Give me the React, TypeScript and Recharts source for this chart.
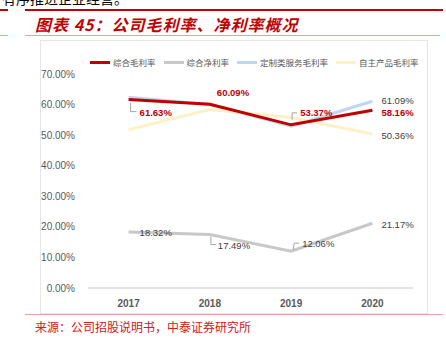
import { LineChart, Line, XAxis, YAxis, LabelList } from 'recharts'

const years = ['2017', '2018', '2019', '2020']
const grossMargin = [61.63, 60.09, 53.37, 58.16]
const netMargin = [18.32, 17.49, 12.06, 21.17]
const serviceMargin = [62.4, 60.0, 52.9, 61.09]
const productMargin = [51.8, 58.4, 55.8, 50.36]
const yTicks = [0, 10, 20, 30, 40, 50, 60, 70]

const chartData = years.map((year, i) => ({
  year,
  gross: grossMargin[i],
  net: netMargin[i],
  service: serviceMargin[i],
  product: productMargin[i],
}))

const RED = '#C00000'
const GRAY = '#C8C8C8'
const BLUE = '#BDD7EE'
const YELLOW = '#FFF0C6'
const TEXT = '#595959'
const FONT = '"Liberation Sans", Arial, sans-serif'
const CJK = '"Noto Sans CJK SC", sans-serif'

const legendItems = [
  { name: '综合毛利率', color: RED },
  { name: '综合净利率', color: GRAY },
  { name: '定制类服务毛利率', color: BLUE },
  { name: '自主产品毛利率', color: YELLOW },
]

// label placement relative to the point; null = no label
type Place = { dx: number; dy: number; leader?: number[][] } | null

const grossPlace: Place[] = [
  { dx: 11, dy: 13, leader: [[2, 3], [2, 12], [8, 12]] },
  { dx: 7, dy: -12 },
  { dx: 9, dy: -12, leader: [[1, -5], [1, -12], [6, -12]] },
  { dx: 9, dy: 2 },
]
const netPlace: Place[] = [
  { dx: 11, dy: 1 },
  { dx: 8, dy: 11, leader: [[1, 2], [1, 10], [6, 10]] },
  { dx: 11, dy: -8, leader: [[2, -1], [3, -8], [8, -8]] },
  { dx: 9, dy: 1 },
]
const serviceLast: Place[] = [null, null, null, { dx: 9, dy: -1 }]
const productLast: Place[] = [null, null, null, { dx: 9, dy: 1 }]

const makeLabel = (places: Place[], color: string, bold: boolean) => (props: any) => {
  const { x, y, index, value } = props
  const p = places[index]
  if (!p) return null
  return (
    <g key={index}>
      {p.leader && (
        <polyline
          points={p.leader.map(([a, b]) => `${x + a},${y + b}`).join(' ')}
          fill="none"
          stroke="#A6A6A6"
          strokeWidth={1}
        />
      )}
      <text
        x={x + p.dx}
        y={y + p.dy}
        fill={color}
        fontSize={9.5}
        fontFamily={FONT}
        fontWeight={bold ? 700 : 400}
        dominantBaseline="central"
        textAnchor="start"
      >
        {value.toFixed(2)}%
      </text>
    </g>
  )
}

export default function App() {
  return (
    <div style={{ position: 'fixed', left: 0, top: 0, width: 446, height: 340, background: '#fff', overflow: 'hidden' }}>
      <div style={{ position: 'absolute', left: 2, top: -12, fontSize: 14, fontFamily: CJK, color: '#000' }}>
        有序推进企业经营。
      </div>
      <div style={{ position: 'absolute', left: 0, top: 9, width: 8, height: 2, background: RED }} />
      <div style={{ position: 'absolute', left: 25, top: 9, width: 418, height: 2, background: RED }} />
      <div
        style={{
          position: 'absolute', left: 35, top: 12, fontSize: 16, fontWeight: 700, fontStyle: 'italic',
          color: RED, fontFamily: CJK, letterSpacing: 1, whiteSpace: 'nowrap',
        }}
      >
        图表 45：公司毛利率、净利率概况
      </div>
      <div style={{ position: 'absolute', left: 0, top: 35, width: 8, height: 1, background: '#E8A0A0' }} />
      <div style={{ position: 'absolute', left: 25, top: 35, width: 415, height: 1, background: '#E8A0A0' }} />

      <div style={{ position: 'absolute', left: 40, top: 40, width: 386, height: 272, border: '1px solid #E6E6E6' }} />

      <div style={{ position: 'absolute', left: 90, top: 56, display: 'flex', alignItems: 'center', whiteSpace: 'nowrap' }}>
        {legendItems.map(item => (
          <div key={item.name} style={{ display: 'flex', alignItems: 'center', marginRight: 8 }}>
            <div style={{ width: 20, height: 3, background: item.color, marginRight: 3 }} />
            <span style={{ fontSize: 8.5, color: TEXT, fontFamily: CJK }}>{item.name}</span>
          </div>
        ))}
      </div>

      <div style={{ position: 'absolute', left: 40, top: 40 }}>
        <LineChart width={387} height={273} data={chartData} margin={{ top: 34, right: 14, bottom: 0, left: 0 }}>
          <XAxis
            dataKey="year"
            scale="point"
            padding={{ left: 40.6, right: 40.6 }}
            axisLine={{ stroke: '#D9D9D9', strokeWidth: 1.5 }}
            tickLine={false}
            tick={{ fontSize: 10, fill: TEXT, fontFamily: FONT, fontWeight: 700 }}
            tickMargin={6}
            height={25}
          />
          <YAxis
            domain={[0, 70]}
            ticks={yTicks}
            axisLine={false}
            tickLine={false}
            width={48}
            tickMargin={7}
            tickFormatter={(v: number) => `${v.toFixed(2)}%`}
            tick={{ fontSize: 10, fill: TEXT, fontFamily: FONT }}
          />
          <Line dataKey="net" stroke={GRAY} strokeWidth={3} dot={false} isAnimationActive={false}>
            <LabelList dataKey="net" content={makeLabel(netPlace, '#404040', false)} />
          </Line>
          <Line dataKey="service" stroke={BLUE} strokeWidth={3} dot={false} isAnimationActive={false}>
            <LabelList dataKey="service" content={makeLabel(serviceLast, '#404040', false)} />
          </Line>
          <Line dataKey="product" stroke={YELLOW} strokeWidth={3} dot={false} isAnimationActive={false}>
            <LabelList dataKey="product" content={makeLabel(productLast, '#404040', false)} />
          </Line>
          <Line dataKey="gross" stroke={RED} strokeWidth={3} dot={false} isAnimationActive={false}>
            <LabelList dataKey="gross" content={makeLabel(grossPlace, RED, true)} />
          </Line>
        </LineChart>
      </div>

      <div style={{ position: 'absolute', left: 25, top: 314, width: 418, height: 1, background: '#E8A0A0' }} />
      <div style={{ position: 'absolute', left: 35, top: 318, fontSize: 12, color: '#D02020', fontFamily: CJK, whiteSpace: 'nowrap' }}>
        来源：公司招股说明书，中泰证券研究所
      </div>
    </div>
  )
}
